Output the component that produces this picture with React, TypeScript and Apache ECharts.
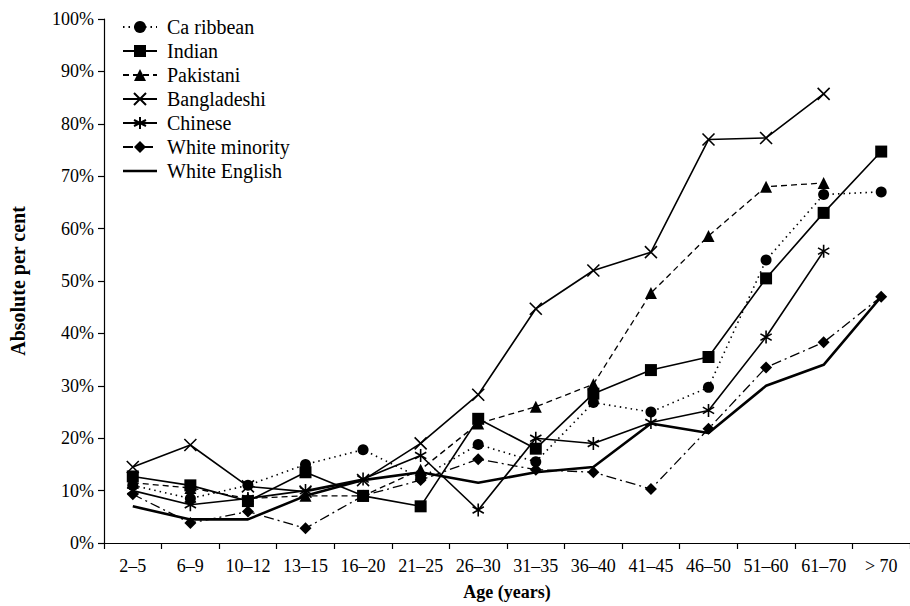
import React, { useEffect, useRef } from "react";
import * as echarts from "echarts";

const categories = ["2–5", "6–9", "10–12", "13–15", "16–20", "21–25", "26–30", "31–35", "36–40", "41–45", "46–50", "51–60", "61–70", "> 70"];

const caribbean = [11, 8.5, 11, 15, 17.8, 12.4, 18.8, 15.5, 26.8, 25, 29.7, 54, 66.5, 67];
const indian = [12.7, 11, 8, 13.5, 9, 7, 23.7, 18, 28.5, 33, 35.5, 50.5, 63, 74.7];
const pakistani = [11.5, 10.5, 8.5, 9, 9, 14, 22.8, 26, 30.3, 47.7, 58.6, 68, 68.7, null];
const bangladeshi = [14.5, 18.7, 10.8, 9.8, 12, 19, 28.3, 44.7, 52, 55.5, 77, 77.3, 85.7, null];
const chinese = [10, 7.3, 8.5, 10, 12.2, 16.7, 6.3, 20, 19, 23, 25.3, 39.3, 55.7, null];
const whiteMinority = [9.3, 3.8, 6, 2.8, 9, 12, 16, 14, 13.5, 10.3, 21.8, 33.5, 38.3, 47];
const whiteEnglish = [7, 4.5, 4.5, 9, 12, 13.5, 11.5, 13.5, 14.5, 22.8, 21, 30, 34, 47];

const FONT = "Liberation Serif";
const X_SYMBOL = "path://M0,0L10,10M10,0L0,10";
const STAR_SYMBOL = "path://M5,0L5,10M0.67,2.5L9.33,7.5M0.67,7.5L9.33,2.5";

export default function App() {
  const ref = useRef<HTMLDivElement>(null);
  useEffect(() => {
    if (!ref.current) return;
    const chart = echarts.init(ref.current, undefined, { renderer: "svg" });
    const mk = (name: string, data: (number | null)[], symbol: string, size: number, lineType: any, width: number, stroke: boolean) => ({
      name,
      type: "line",
      data,
      symbol,
      symbolSize: size,
      symbolKeepAspect: true,
      showSymbol: symbol !== "none",
      connectNulls: false,
      lineStyle: { color: "#000", width, type: lineType },
      itemStyle: stroke
        ? { color: "#000", borderColor: "#000", borderWidth: 1.6 }
        : { color: "#000", borderWidth: 0 },
      z: 2,
    });
    chart.setOption({
      animation: false,
      backgroundColor: "#fff",
      textStyle: { fontFamily: FONT, color: "#000" },
      legend: {
        orient: "vertical",
        left: 117,
        top: 12,
        itemGap: 4,
        itemWidth: 34,
        itemHeight: 15,
        textStyle: { fontFamily: FONT, fontSize: 20, color: "#000", padding: [0, 0, 0, 5] },
        data: [
          "Ca ribbean",
          "Indian",
          "Pakistani",
          "Bangladeshi",
          "Chinese",
          "White minority",
          { name: "White English", icon: "path://M0,0L36,0L36,2.6L0,2.6Z", itemStyle: { color: "#000" } },
        ],
      },
      grid: { left: 98, top: 19, width: 815, height: 524 },
      xAxis: {
        type: "category",
        data: categories,
        boundaryGap: true,
        name: "Age (years)",
        nameLocation: "middle",
        nameGap: 40,
        nameTextStyle: { fontFamily: FONT, fontSize: 18, fontWeight: "bold", color: "#000" },
        axisLine: { lineStyle: { color: "#000", width: 1.2 } },
        axisTick: { show: true, length: 6, lineStyle: { color: "#000", width: 1.2 } },
        axisLabel: { interval: 0, margin: 14, fontFamily: FONT, fontSize: 18, color: "#000" },
        splitLine: { show: false },
      },
      yAxis: {
        type: "value",
        min: 0,
        max: 100,
        interval: 10,
        name: "Absolute per cent",
        nameLocation: "middle",
        nameGap: 76,
        nameRotate: 90,
        nameTextStyle: { fontFamily: FONT, fontSize: 20, fontWeight: "bold", color: "#000" },
        axisLine: { show: true, lineStyle: { color: "#000", width: 1.2 } },
        axisTick: { show: true, length: 6, lineStyle: { color: "#000", width: 1.2 } },
        axisLabel: { formatter: "{value}%", margin: 10, fontFamily: FONT, fontSize: 18, color: "#000" },
        splitLine: { show: false },
      },
      series: [
        mk("Ca ribbean", caribbean, "circle", 11, [1.5, 4], 1.6, false),
        mk("Indian", indian, "rect", 12, "solid", 1.6, false),
        mk("Pakistani", pakistani, "triangle", 12, [6, 4], 1.3, false),
        mk("Bangladeshi", bangladeshi, X_SYMBOL, 12, "solid", 1.6, true),
        mk("Chinese", chinese, STAR_SYMBOL, 13, "solid", 1.6, true),
        mk("White minority", whiteMinority, "diamond", 12, [10, 4, 2, 4], 1.3, false),
        mk("White English", whiteEnglish, "none", 1, "solid", 2.6, false),
      ],
    });
    return () => chart.dispose();
  }, []);
  return <div ref={ref} style={{ position: "fixed", left: 0, top: 0, width: 910, height: 606 }} />;
}
